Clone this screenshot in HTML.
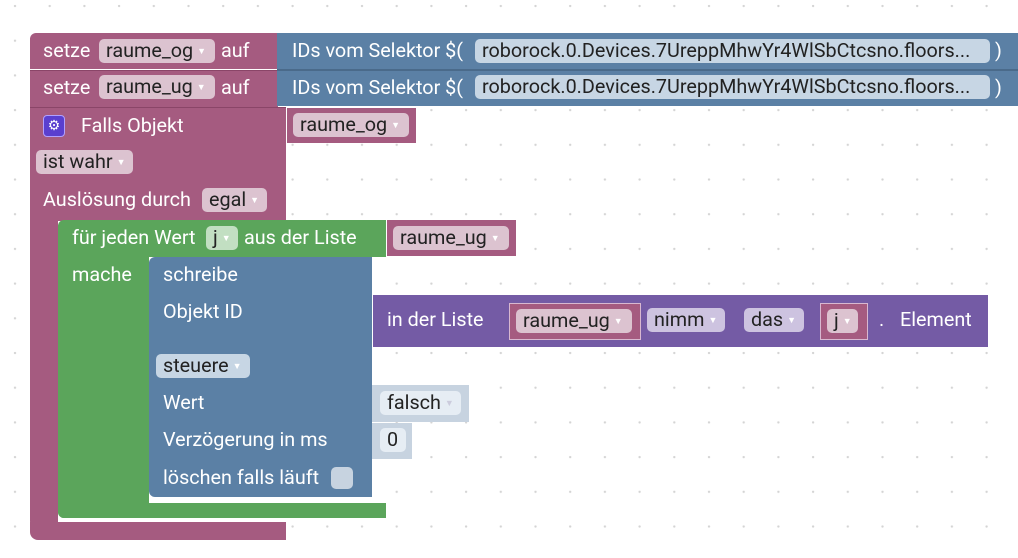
<!DOCTYPE html>
<html><head><meta charset="utf-8"><style>
body{margin:0;width:1018px;height:558px;position:relative;overflow:hidden;background:#fff;font-family:"Roboto","Liberation Sans",sans-serif;font-size:19.8px;}
.b{position:absolute;}
.pk{background:#a55b80;}
.bl{background:#5b80a5;}
.gr{background:#5ba55b;}
.pu{background:#745ba5;}
.t{position:absolute;color:#fff;white-space:nowrap;line-height:22px;}
.f{position:absolute;border-radius:5px;color:#222;white-space:nowrap;line-height:24px;height:24px;padding:0 0 0 7px;box-sizing:border-box;overflow:hidden;}
.f i{font-style:normal;font-size:9px;color:#fff;margin-left:4px;vertical-align:3px;}
.fp{background:#dcc3d0;}
.fb{background:#c7d6e4;}
.fg{background:#c2dfc2;}
.fu{background:#cdc3e0;}
#dots{position:absolute;left:0;top:0;}
</style></head><body>
<svg id="dots" width="1018" height="558">
<defs><pattern id="p" x="6" y="3" width="34.7" height="34.7" patternUnits="userSpaceOnUse"><circle cx="9" cy="3" r="1.2" fill="#d4d4d4"/></pattern></defs>
<rect width="1018" height="558" fill="url(#p)"/>
</svg>

<!-- row 1 -->
<div class="b pk" style="left:30px;top:33px;width:248px;height:36px;border-radius:6px 0 0 0"></div>
<div class="t" style="left:43px;top:40px">setze</div>
<div class="f fp" style="left:99px;top:39px;width:116px">raume_og<i>▼</i></div>
<div class="t" style="left:221px;top:40px">auf</div>
<div class="b bl" style="left:277px;top:33px;width:741px;height:36px;border-bottom:1px solid #4a6a8a"></div>
<div class="t" style="left:292px;top:40px">IDs vom Selektor $(</div>
<div class="f fb" style="left:475px;top:39px;width:515px">roborock.0.Devices.7UreppMhwYr4WlSbCtcsno.floors...</div>
<div class="t" style="left:995px;top:40px">)</div>
<!-- row 2 -->
<div class="b pk" style="left:30px;top:70px;width:248px;height:36px;border-top:1px solid #8a4568"></div>
<div class="t" style="left:43px;top:77px">setze</div>
<div class="f fp" style="left:99px;top:75px;width:116px">raume_ug<i>▼</i></div>
<div class="t" style="left:221px;top:77px">auf</div>
<div class="b bl" style="left:277px;top:70px;width:741px;height:35px;border-top:1px solid #4a6a8a"></div>
<div class="t" style="left:292px;top:77px">IDs vom Selektor $(</div>
<div class="f fb" style="left:475px;top:75px;width:515px">roborock.0.Devices.7UreppMhwYr4WlSbCtcsno.floors...</div>
<div class="t" style="left:995px;top:77px">)</div>

<!-- Falls Objekt -->
<div class="b pk" style="left:30px;top:107px;width:256px;height:113px;border-top:1px solid #8a4568"></div>
<div class="b pk" style="left:30px;top:219px;width:28px;height:310px;border-radius:0 0 0 8px"></div>
<div class="b pk" style="left:30px;top:522px;width:256px;height:18px;border-radius:0 0 0 8px"></div>
<div class="b" style="left:43px;top:115px;width:22px;height:22px;border-radius:4px;background:#5a3fcf;border:1px solid #b0a0ff;box-sizing:border-box;color:#fff;font-size:14px;line-height:20px;text-align:center">⚙</div>
<div class="t" style="left:81px;top:115px">Falls Objekt</div>
<div class="b pk" style="left:287px;top:108px;width:129px;height:35px"></div>
<div class="f fp" style="left:293px;top:113px;width:116px">raume_og<i>▼</i></div>
<div class="f fp" style="left:36px;top:150px;width:97px">ist wahr<i>▼</i></div>
<div class="t" style="left:43px;top:189px">Auslösung durch</div>
<div class="f fp" style="left:202px;top:188px;width:65px">egal<i>▼</i></div>

<!-- green loop -->
<div class="b gr" style="left:58px;top:220px;width:328px;height:37px;border-radius:6px 0 0 0"></div>
<div class="b gr" style="left:58px;top:256px;width:91px;height:262px;border-radius:0 0 0 6px"></div>
<div class="b gr" style="left:58px;top:503px;width:328px;height:15px;border-radius:0 0 0 6px"></div>
<div class="t" style="left:72px;top:227px">für jeden Wert</div>
<div class="f fg" style="left:206px;top:226px;width:32px">j<i>▼</i></div>
<div class="t" style="left:244px;top:227px">aus der Liste</div>
<div class="b pk" style="left:387px;top:220px;width:129px;height:36px"></div>
<div class="f fp" style="left:393px;top:226px;width:116px">raume_ug<i>▼</i></div>
<div class="t" style="left:72px;top:264px">mache</div>

<!-- schreibe -->
<div class="b bl" style="left:149px;top:257px;width:223px;height:240px;border-radius:6px 0 0 6px"></div>
<div class="t" style="left:163px;top:264px">schreibe</div>
<div class="t" style="left:163px;top:301px">Objekt ID</div>
<div class="f fb" style="left:156px;top:354px;width:94px">steuere<i>▼</i></div>
<div class="t" style="left:163px;top:392px">Wert</div>
<div class="t" style="left:163px;top:429px">Verzögerung in ms</div>
<div class="t" style="left:163px;top:467px">löschen falls läuft</div>
<div class="b" style="left:331px;top:467px;width:22px;height:22px;border-radius:5px;background:#c7d3e0"></div>

<!-- purple -->
<div class="b pu" style="left:373px;top:295px;width:615px;height:52px"></div>
<div class="t" style="left:387px;top:309px">in der Liste</div>
<div class="b pk" style="left:509px;top:303px;width:132px;height:37px;border:1px solid #d8b8d0;box-sizing:border-box"></div>
<div class="f fp" style="left:516px;top:309px;width:116px">raume_ug<i>▼</i></div>
<div class="f fu" style="left:647px;top:308px;width:78px">nimm<i>▼</i></div>
<div class="f fu" style="left:744px;top:308px;width:60px">das<i>▼</i></div>
<div class="b pk" style="left:820px;top:303px;width:48px;height:37px;border:1px solid #d8b8d0;box-sizing:border-box"></div>
<div class="f fp" style="left:827px;top:309px;width:31px">j<i>▼</i></div>
<div class="t" style="left:879px;top:309px">.</div>
<div class="t" style="left:900px;top:309px">Element</div>

<!-- falsch / 0 -->
<div class="b" style="left:372px;top:385px;width:97px;height:37px;background:#c7d3e0"></div>
<div class="f" style="left:380px;top:391px;width:81px;background:#e6edf4">falsch<i style="color:#ccd">▼</i></div>
<div class="b" style="left:372px;top:423px;width:40px;height:36px;background:#c7d3e0"></div>
<div class="f" style="left:380px;top:428px;width:26px;background:#e6edf4">0</div>
</body></html>
